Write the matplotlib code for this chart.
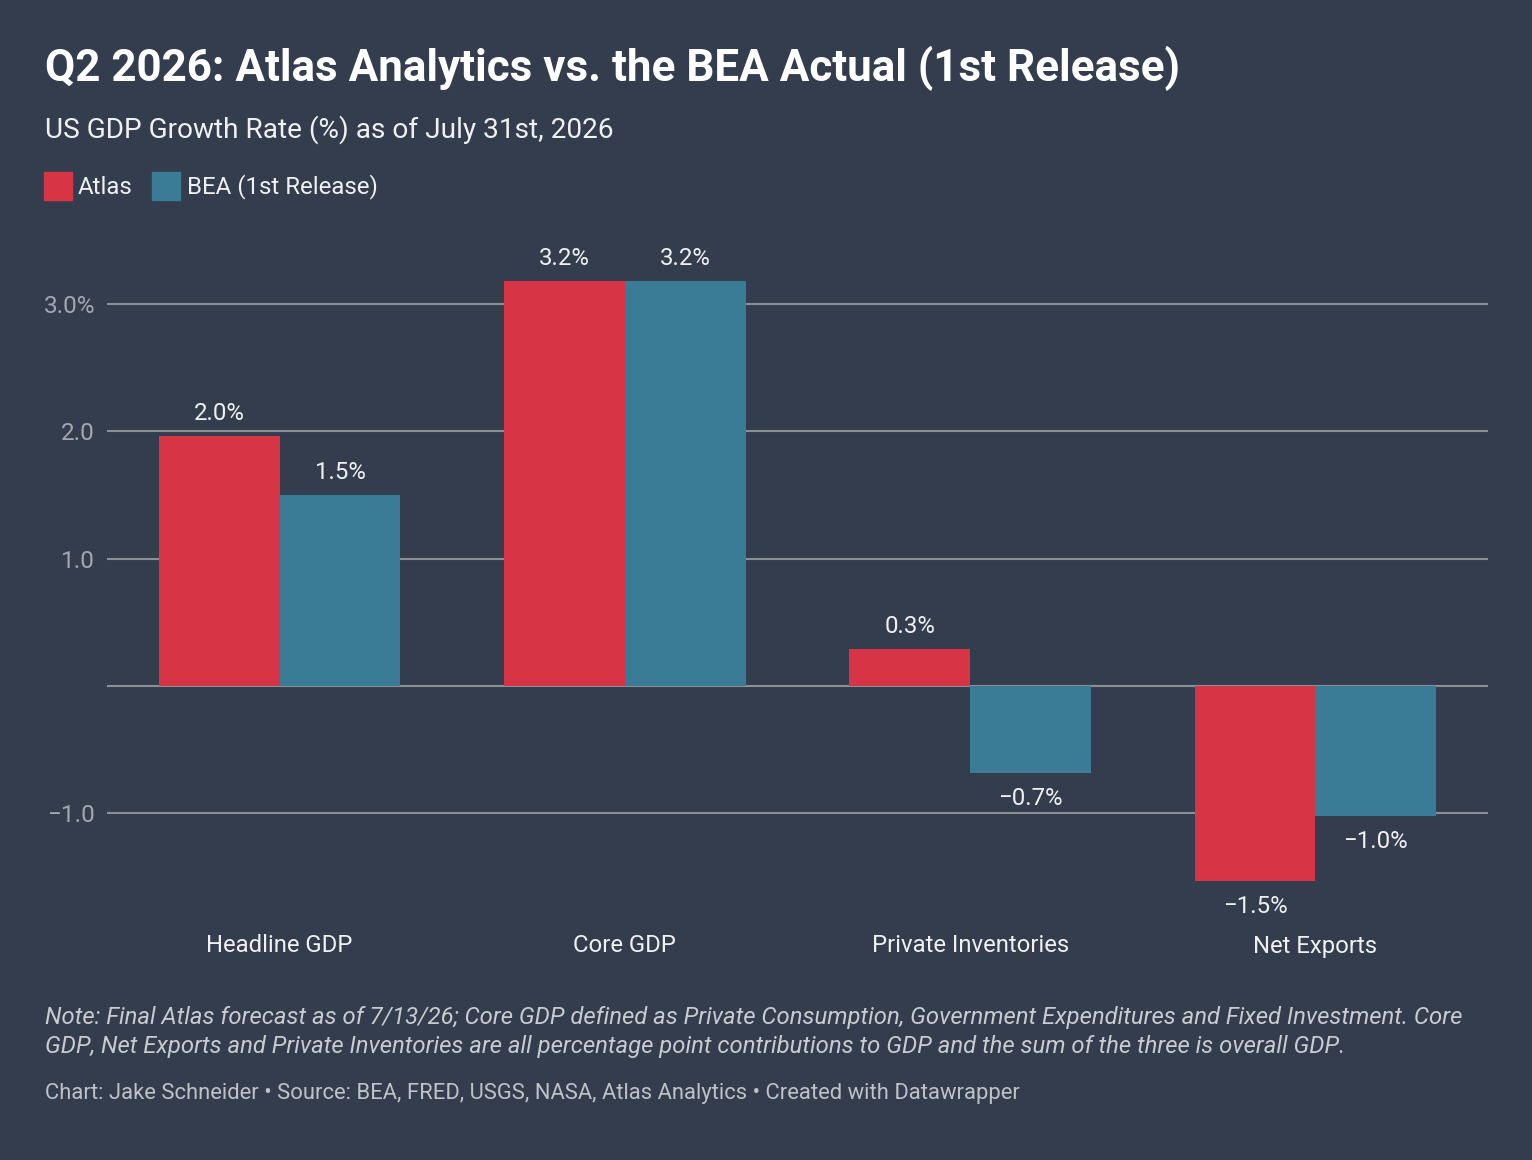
import numpy as np
import matplotlib.pyplot as plt
import matplotlib.transforms as mtransforms

BG = "#333d4e"
RED = "#d73446"
TEAL = "#3a7b96"
GRID = "#8c8f94"

categories = ["Headline GDP", "Core GDP", "Private Inventories", "Net Exports"]
atlas = [1.96, 3.18, 0.29, -1.53]
bea = [1.50, 3.18, -0.68, -1.02]
series_names = ["Atlas", "BEA (1st Release)"]
yticks = [-1.0, 1.0, 2.0, 3.0]
ytick_labels = ["\u22121.0", "1.0", "2.0", "3.0%"]

plt.rcParams['font.family'] = ['Roboto', 'DejaVu Sans']

fig = plt.figure(figsize=(15.32, 11.6), dpi=100)
fig.patch.set_facecolor(BG)

ylo, yhi = -1.65, 3.35
zero_px, unit_px = 686, 127.3
top_px = zero_px - yhi * unit_px
bot_px = zero_px - ylo * unit_px
ax = fig.add_axes([107/1532, 1 - bot_px/1160, (1488-107)/1532, (bot_px - top_px)/1160])
ax.set_facecolor(BG)

x = np.arange(len(categories))
w = 0.35
b1 = ax.bar(x - w/2, atlas, w, color=RED, zorder=3)
b2 = ax.bar(x + w/2, bea, w, color=TEAL, zorder=3)

ax.set_xlim(-0.5, 3.5)
ax.set_ylim(ylo, yhi)

for v in yticks + [0.0]:
    ax.axhline(v, color=GRID, lw=1.5, zorder=1)

ax.set_yticks(yticks)
ax.set_yticklabels(ytick_labels)
ax.tick_params(axis='y', length=0, pad=8.6, labelsize=17.5, labelcolor="#a3a7ae")
ax.set_xticks([])
for s in ax.spines.values():
    s.set_visible(False)

def fmt(v):
    s = f"{abs(v):.1f}%"
    return ("\u2212" + s) if v < 0 else s

for bars, vals in ((b1, atlas), (b2, bea)):
    for r, v in zip(bars, vals):
        cx = r.get_x() + r.get_width()/2
        if v >= 0:
            ax.annotate(fmt(v), (cx, v), xytext=(0, 8), textcoords="offset points",
                        ha="center", va="bottom", color="#f0f0f0", fontsize=17.3)
        else:
            ax.annotate(fmt(v), (cx, v), xytext=(0, -10.5), textcoords="offset points",
                        ha="center", va="top", color="#f0f0f0", fontsize=17.3)

# category labels, x in data, y in figure
trans = mtransforms.blended_transform_factory(ax.transData, fig.transFigure)
for i, c in enumerate(categories):
    fig.text(i, 1 - 946/1160, c, transform=trans, ha="center", va="center",
             color="#f0f0f0", fontsize=17.2)

# header
fig.text(45/1532, 1 - 68/1160, "Q2 2026: Atlas Analytics vs. the BEA Actual (1st Release)",
         color="white", fontsize=31.7, fontweight="bold", va="center", ha="left")
fig.text(45/1532, 1 - 130/1160, "US GDP Growth Rate (%) as of July 31st, 2026",
         color="#f0f0f0", fontsize=20.2, va="center", ha="left")

# legend
for lx, tx, col, name in ((44, 78, RED, series_names[0]), (152, 187, TEAL, series_names[1])):
    fig.patches.append(plt.Rectangle((lx/1532, 1 - 200/1160), 28/1532, 28/1160,
                                     transform=fig.transFigure, color=col))
    fig.text(tx/1532, 1 - 187/1160, name, color="#f0f0f0", fontsize=17.3, va="center", ha="left")

# footer
note = ("Note: Final Atlas forecast as of 7/13/26; Core GDP defined as Private Consumption, "
        "Government Expenditures and Fixed Investment. Core\n"
        "GDP, Net Exports and Private Inventories are all percentage point contributions "
        "to GDP and the sum of the three is overall GDP.")
fig.text(45/1532, 1 - 1032/1160, note, color="#c9cbcf", fontsize=17.2, style="italic",
         va="center", ha="left", linespacing=1.3)
fig.text(45/1532, 1 - 1093/1160,
         "Chart: Jake Schneider \u2022 Source: BEA, FRED, USGS, NASA, Atlas Analytics \u2022 Created with Datawrapper",
         color="#bfc2c7", fontsize=15.85, va="center", ha="left")

fig.savefig("out.png", dpi=100, facecolor=BG)
